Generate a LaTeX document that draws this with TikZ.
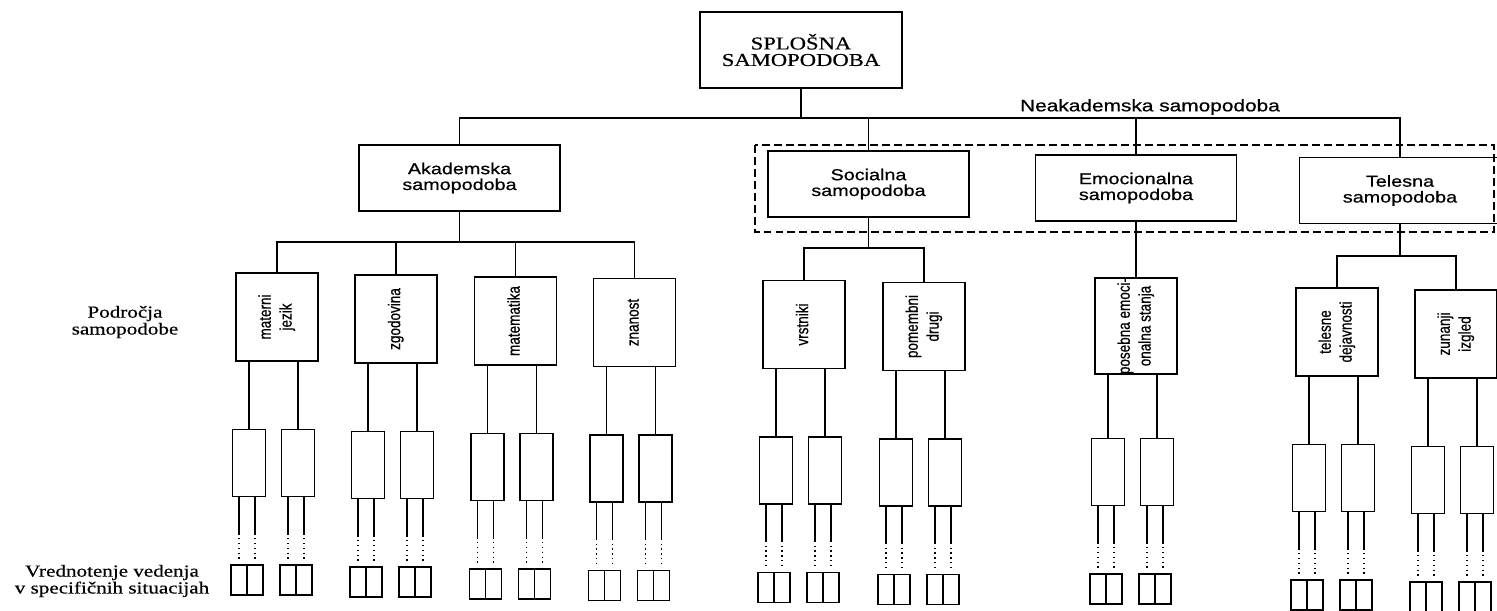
\documentclass[tikz,border=0pt]{standalone}
\usepackage{fontspec}
\setmainfont{Liberation Serif}[FakeStretch=1.25,FakeBold=0.5]
\newfontfamily\boxfont{Liberation Sans}[FakeStretch=1.25,FakeBold=0.6]
\newfontfamily\rotfont{Liberation Sans}[FakeBold=0.6]
\usetikzlibrary{calc}
\newcommand\vtext[1]{\rotatebox{90}{\scalebox{1}[1.25]{\begin{tabular}{@{}c@{}}#1\end{tabular}}}}

\begin{document}
\begin{tikzpicture}[x=0.02cm,y=-0.02cm,line width=0.75pt]
\tikzstyle{every node}+=[inner sep=0pt]
\tikzstyle{mainbox}=[draw,line width=1.5pt,minimum width=4.04cm,minimum height=1.52cm,align=center,font=\fontsize{10.3}{9.4}\selectfont]
\tikzstyle{selfbox}=[draw,minimum width=4.02cm,minimum height=1.32cm,align=center,font=\boxfont\fontsize{9}{9}\selectfont]
\tikzstyle{areabox}=[draw,minimum width=1.64cm,minimum height=1.76cm,font=\rotfont\fontsize{7.7}{9.5}\selectfont]
\tikzstyle{lowbox}=[draw,line width=0.9pt,minimum width=0.66cm,minimum height=1.34cm]
\tikzstyle{tinybox}=[draw,line width=0.9pt,minimum width=0.32cm,minimum height=0.6cm]
\tikzstyle{sidelabel}=[align=center,font=\fontsize{9.6}{9.6}\selectfont]
\useasboundingbox (0,0) rectangle (1497,611);

% top and first level
\node[mainbox] (top) at (801,50) {SPLOŠNA\\SAMOPODOBA};
\node[selfbox] (aka) at (459.5,178) {Akademska\\samopodoba};
\node[selfbox] (soc) at (868.5,184) {Socialna\\samopodoba};
\node[selfbox] (emo) at (1136,188) {Emocionalna\\samopodoba};
\node[selfbox] (tel) at (1400,190.5) {Telesna\\samopodoba};
\node[font=\boxfont\fontsize{9.5}{9.5}\selectfont] (neak) at (1150,107) {Neakademska samopodoba};
\draw[dash pattern=on 4.5pt off 2.3pt] (755,145) rectangle (1494,232);

\coordinate (bar) at (0,118);
\draw (top.south) -- (top.south |- bar);
\draw (aka.north) |- (tel.north |- bar) -- (tel.north);
\draw (soc.north) -- (soc.north |- bar);
\draw (emo.north) -- (emo.north |- bar);

% podrocja samopodobe
\node[areabox] (mat) at (277,317) {\vtext{materni\\jezik}};
\node[areabox] (zgo) at (396,319) {\vtext{zgodovina}};
\node[areabox] (mtk) at (515.5,321) {\vtext{matematika}};
\node[areabox] (zna) at (634.5,322.5) {\vtext{znanost}};
\node[areabox] (vrs) at (804,324.5) {\vtext{vrstniki}};
\node[areabox] (pom) at (924,326.5) {\vtext{pomembni\\drugi}};
\node[areabox,minimum height=1.88cm] (pos) at (1136,326) {\vtext{posebna emoci-\\onalna stanja}};
\node[areabox] (tld) at (1337,332) {\vtext{telesne\\dejavnosti}};
\node[areabox] (zun) at (1456,334) {\vtext{zunanji\\izgled}};

\coordinate (akabar) at (0,242);
\draw (aka.south) -- (aka.south |- akabar);
\draw (mat.north) |- (zna.north |- akabar) -- (zna.north);
\draw (zgo.north) -- (zgo.north |- akabar);
\draw (mtk.north) -- (mtk.north |- akabar);
\coordinate (socbar) at (0,248);
\draw (soc.south) -- (soc.south |- socbar);
\draw (vrs.north) |- (pom.north |- socbar) -- (pom.north);
\draw (emo.south) -- (emo.south |- pos.north);
\coordinate (telbar) at (0,256);
\draw (tel.south) -- (tel.south |- telbar);
\draw (tld.north) |- (zun.north |- telbar) -- (zun.north);

% lower levels
\foreach \dom in {mat,zgo,mtk,zna,vrs,pom,pos,tld,zun}{
  \node[lowbox] (\dom-l) at ($(\dom)+(-28,146)$) {};
  \node[lowbox] (\dom-r) at ($(\dom)+(21,146)$) {};
  \foreach \side in {l,r}{
    \draw (\dom-\side.north) -- (\dom-\side.north |- \dom.south);
    \node[tinybox] (\dom-\side-a) at ($(\dom-\side)+(-10,117)$) {};
    \node[tinybox] (\dom-\side-b) at ($(\dom-\side)+(6,117)$) {};
    \foreach \half in {a,b}{
      \draw (\dom-\side-\half.north |- \dom-\side.south) -- ++(0,36) coordinate (m);
      \draw[dotted] (m) -- ($(\dom-\side-\half.north)+(0,-2)$);
    }
  }
}

\node[sidelabel] (podr) at (125,322) {Področja\\samopodobe};
\node[sidelabel] (vred) at (112,581) {Vrednotenje vedenja\\v specifičnih situacijah};
\end{tikzpicture}
\end{document}
